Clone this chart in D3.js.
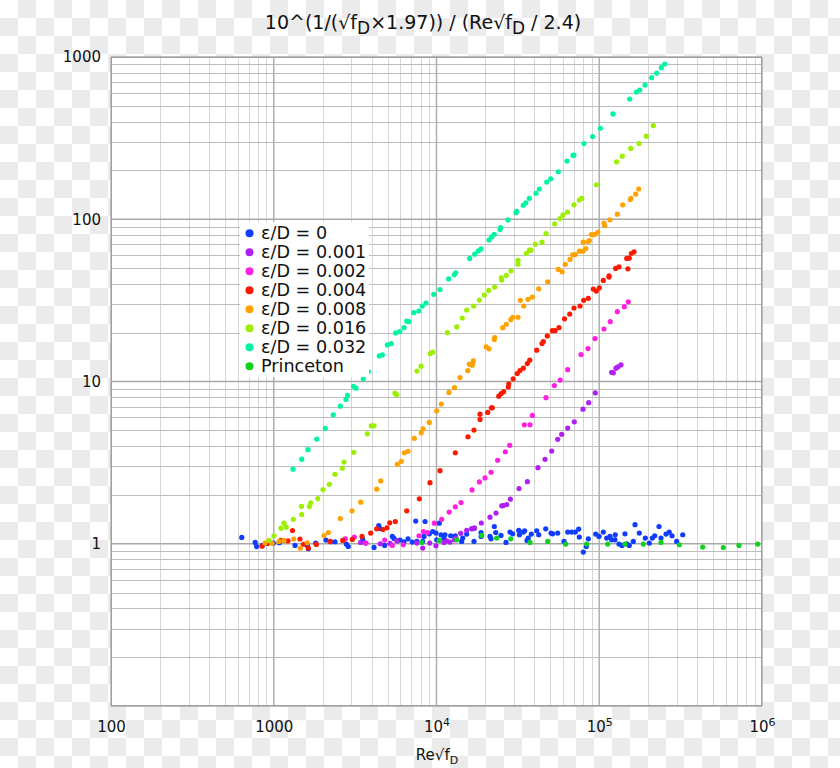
<!DOCTYPE html>
<html><head><meta charset="utf-8">
<script src="https://cdn.jsdelivr.net/npm/d3@7"></script>
<style>body{margin:0;background:#fff}svg{display:block;font-family:"DejaVu Sans",sans-serif}</style>
</head><body><svg id="c" width="840" height="768"></svg>
<script>
// ---------- data (x = Re√fD, y = plotted ratio) ----------
const seriesNames = ["ε/D = 0","ε/D = 0.001","ε/D = 0.002","ε/D = 0.004","ε/D = 0.008","ε/D = 0.016","ε/D = 0.032","Princeton"];
const seriesColors = ["#0f3cff","#b020f5","#ff20e0","#ff1800","#ffa200","#9cef00","#00f5a0","#10d020"];

const eps0 = [[636,1.094],[769,1.019],[784,0.961],[851,0.979],[909,1.004],[994,1.01],[1081,1.014],[1351,0.976],[1612,0.972],[1631,0.932],[1811,1.01],[2094,1.054],[2239,1.029],[2379,1.029],[2792,0.996],[2870,0.962],[3520,1.069],[3673,1.01],[4131,0.949],[4418,1.296],[4497,1.241],[4806,0.976],[5352,1.109],[5482,1.078],[5744,1.043],[5967,1.054],[6315,1.029],[6683,1.073],[7102,1.024],[7452,1.379],[7582,1.033],[8228,1.033],[8380,1.109],[8506,1.371],[9033,1.152],[9479,1.19],[9930,1.163],[10030,1.058],[10400,1.34],[10660,1.136],[11110,1.084],[11280,1.136],[12220,1.12],[13050,1.12],[14280,1.033],[14490,1.084],[15330,1.147],[16460,1.236],[17080,1.248],[17000,1.033],[18780,1.173],[18780,1.109],[21320,1.109],[21630,1.073],[22660,1.277],[23110,1.173],[24910,1.125],[26740,1.019],[28290,1.181],[29390,1.152],[32020,1.208],[32300,1.136],[34160,1.181],[34820,1.203],[35980,1.048],[36650,1.084],[38240,1.147],[41290,1.203],[42470,1.136],[46890,1.236],[50540,1.163],[51770,1.152],[55560,1.163],[60740,1.033],[64010,1.181],[67730,1.181],[71270,1.181],[74770,1.231],[75430,1.1],[79810,0.889],[83280,0.962],[85660,1.073],[95110,1.147],[99650,1.109],[105900,1.181],[111100,1.084],[116400,1.109],[119200,1.058],[125400,1.136],[124900,1.058],[132200,0.996],[138000,0.976],[143900,1.152],[147600,1.0],[152900,0.976],[161900,1.033],[165900,1.31],[176300,1.163],[191900,1.084],[203000,1.01],[211900,1.084],[219200,1.12],[232900,1.277],[239500,1.084],[257200,1.147],[269300,1.181],[279900,1.12],[299100,1.033],[325800,1.136]];

const eps001 = [[3423,1.019],[4516,1.0],[5181,1.004],[5693,1.043],[7582,1.01],[8228,0.941],[9084,1.01],[9930,0.972],[11110,1.019],[11550,1.043],[12100,1.024],[12870,1.058],[13170,1.084],[14080,1.16],[15330,1.21],[16530,1.241],[17080,1.248],[18860,1.342],[21320,1.458],[23200,1.545],[25160,1.713],[25730,1.719],[27010,1.745],[28420,1.883],[32130,2.187],[36140,2.414],[42050,2.944],[46430,3.316],[51040,3.728],[55560,4.399],[58790,4.722],[64010,5.162],[70280,5.644],[79480,6.754],[86140,7.403],[94580,8.505],[119200,11.39],[122000,11.31],[126700,12.08],[130400,12.31],[136000,12.66]];

const eps002 = [[2753,1.073],[3126,1.099],[3688,1.01],[4806,1.054],[5352,0.976],[6253,0.986],[7808,1.12],[8298,1.19],[8781,1.173],[9695,1.34],[10760,1.414],[11970,1.568],[13050,1.688],[14140,1.795],[16530,2.147],[18340,2.404],[19860,2.545],[21630,2.758],[23770,3.27],[26480,3.691],[28180,4.044],[34650,5.41],[37550,5.41],[38790,6.179],[47090,7.948],[52970,9.445],[57570,10.21],[64010,11.83],[77260,14.65],[85300,15.95],[94180,18.38],[106900,21.07],[116800,23.37],[129100,26.93],[142500,28.9],[150800,31.02]];

const eps004 = [[847,0.965],[922,1.01],[1103,1.048],[1223,1.043],[1304,1.207],[1449,1.07],[1524,0.993],[1631,0.941],[1827,0.99],[2217,1.033],[2653,1.048],[3039,1.063],[3486,1.109],[3942,1.163],[4290,1.236],[4692,1.224],[4965,1.254],[5159,1.346],[5584,1.371],[6562,1.595],[7842,1.891],[9123,2.38],[10510,2.821],[13050,3.639],[15620,4.564],[17000,5.019],[18510,5.838],[18510,6.293],[20640,6.446],[21720,6.879],[22030,6.879],[24140,8.118],[24980,8.434],[25880,8.65],[27620,9.245],[27800,9.688],[29600,10.39],[31330,11.2],[32600,11.67],[34160,12.08],[36140,12.9],[37390,13.53],[41290,15.59],[44490,17.13],[45320,17.62],[47960,19.1],[51480,20.58],[53490,20.58],[56590,21.47],[61170,24.34],[65850,26.05],[69970,28.38],[76180,29.19],[80260,31.64],[85660,32.55],[91930,37.12],[95930,36.08],[100100,37.81],[105900,41.99],[114800,44.81],[114800,43.99],[126200,49.76],[132200,50.9],[150000,49.48],[147600,57.32],[152900,57.57],[157400,61.52],[163500,62.93]];

const eps008 = [[884,1.01],[976,1.007],[1077,1.033],[1156,1.048],[1326,1.069],[1455,0.939],[1606,1.014],[2036,1.124],[2164,1.173],[2564,1.43],[3026,1.595],[3423,1.805],[4290,2.169],[4541,2.439],[5744,3.089],[6078,3.222],[6342,3.639],[6683,3.712],[7306,4.462],[8054,4.83],[8263,5.112],[9033,5.596],[10030,6.594],[10700,7.269],[11930,8.566],[12900,9.155],[13940,10.58],[15570,11.68],[15910,12.78],[16600,12.61],[16830,13.4],[20230,16.34],[21020,15.89],[22660,18.13],[22780,18.65],[25520,21.47],[26860,22.53],[28570,24.04],[29390,24.88],[31680,24.88],[32740,31.64],[34350,29.19],[36500,32.09],[38790,33.16],[42470,37.28],[48230,41.17],[56030,49.05],[59210,47.42],[61870,52.72],[66120,56.51],[68700,60.32],[71270,60.65],[75430,63.55],[79480,63.55],[82570,66.03],[79810,72.18],[85660,72.9],[86900,73.93],[89380,80.51],[93270,80.51],[97850,83.15],[108000,91.42],[106900,94.85],[116400,99.2],[129100,107.5],[139500,122.7],[155200,132.3],[156700,134.6],[167500,143.0],[174800,153.6]];

const eps016 = [[935,1.048],[1004,1.12],[1108,1.248],[1156,1.34],[1194,1.266],[1319,1.414],[1480,1.70],[1485,1.514],[1654,1.695],[1687,1.787],[1863,1.899],[2008,2.157],[2195,2.327],[2379,2.681],[2638,2.919],[2702,3.191],[3100,3.66],[3757,4.762],[3970,5.333],[4131,5.333],[5560,8.47],[5693,8.29],[7590,11.59],[8032,12.43],[9161,14.86],[9479,15.16],[11680,20.0],[13310,21.69],[14400,24.63],[15330,27.58],[16930,29.19],[18340,31.77],[19680,34.11],[20930,36.44],[22780,38.19],[25020,43.56],[25160,42.17],[26860,45.06],[28700,48.1],[31680,55.72],[31680,52.82],[35630,61.52],[37180,64.46],[38080,64.46],[40480,70.13],[44490,72.18],[47090,81.64],[53260,93.52],[57400,101.1],[59880,106.3],[63820,110.5],[69970,122.7],[75350,131.4],[78030,134.6],[96200,163.2],[127900,225.9],[138550,244.9],[156100,273.1],[175600,293.1],[194600,325.1],[214900,378.1]];

const eps032 = [[1313,2.88],[1485,3.32],[1624,3.80],[1837,4.42],[2074,5.14],[2322,6.23],[2564,7.05],[2780,7.75],[2840,8.23],[3090,9.35],[3200,9.09],[3550,10.39],[3811,11.52],[4450,14.38],[4650,14.58],[4990,16.81],[5280,17.13],[5615,19.92],[5940,20.29],[6315,21.47],[6560,23.6],[6750,23.37],[7250,26.55],[7780,27.2],[8180,29.19],[8620,30.46],[9620,34.45],[10510,36.86],[11880,42.9],[12870,45.45],[13130,46.76],[16000,57.32],[17180,60.9],[18070,63.82],[18780,65.66],[21020,74.57],[21840,77.81],[22660,80.83],[24560,86.38],[24810,88.87],[27510,99.0],[30800,109.8],[31110,112.0],[34110,122],[35380,126.2],[37180,134.6],[40880,144.4],[42830,153.6],[47550,169.5],[50330,177.7],[56030,196.2],[63380,228.2],[68990,247.4],[69970,248.5],[80600,293.1],[91160,323.7],[101500,363.9],[121400,445.6],[153900,551],[168900,608.2],[177300,625.7],[191100,671.6],[210000,745.7],[225400,795.9],[240600,859.1],[252500,903.9]];

const princeton = [[8116,1.019],[10400,1.048],[13310,1.058],[18960,1.125],[23430,1.084],[28570,1.073],[37550,1.019],[48230,1.033],[62220,0.996],[83640,0.996],[112700,0.996],[143900,0.996],[186600,0.996],[239500,1.019],[310400,0.986],[432200,0.954],[578500,0.948],[722300,0.976],[941700,0.996]];

const xTickValues = [100,1000,1e4,1e5,1e6];
const xTickLabels = ["100","1000","10|4","10|5","10|6"];
const yTickValues = [1,10,100,1000];
const yTickLabels = ["1","10","100","1000"];

const allSeries = [eps0,eps001,eps002,eps004,eps008,eps016,eps032,princeton];

// ---------- drawing ----------
const svg = d3.select("#c");
const W = 840, H = 768;
const x = d3.scaleLog().domain([100,1e6]).range([111,762]);
const y = d3.scaleLog().domain([0.1,1000]).range([706,57]);

// checkerboard background
const defs = svg.append("defs");
const pat = defs.append("pattern").attr("id","chk").attr("width",36).attr("height",36).attr("patternUnits","userSpaceOnUse");
pat.append("rect").attr("width",36).attr("height",36).attr("fill","#ffffff");
pat.append("rect").attr("x",18).attr("y",0).attr("width",18).attr("height",18).attr("fill","#ebebeb");
pat.append("rect").attr("x",0).attr("y",18).attr("width",18).attr("height",18).attr("fill","#ebebeb");
svg.append("rect").attr("width",W).attr("height",H).attr("fill","url(#chk)");

// plot area
svg.append("rect").attr("x",111).attr("y",57).attr("width",651).attr("height",649).attr("fill","#fff");

const isMajor = v => Math.abs(Math.log10(v) - Math.round(Math.log10(v))) < 1e-9;
const xt = x.ticks(), yt = y.ticks();
const g = svg.append("g");
g.selectAll(".vx").data(xt.filter(v=>!isMajor(v))).enter().append("line")
  .attr("x1",d=>Math.round(x(d))+0.5).attr("x2",d=>Math.round(x(d))+0.5).attr("y1",57).attr("y2",706)
  .attr("stroke","#d6d6d6").attr("stroke-width",1);
g.selectAll(".hy").data(yt.filter(v=>!isMajor(v))).enter().append("line")
  .attr("y1",d=>Math.round(y(d))+0.5).attr("y2",d=>Math.round(y(d))+0.5).attr("x1",111).attr("x2",762)
  .attr("stroke","#bdbdbd").attr("stroke-width",1);
g.selectAll(".mx").data(xt.filter(isMajor)).enter().append("line")
  .attr("x1",d=>x(d)).attr("x2",d=>x(d)).attr("y1",57).attr("y2",706)
  .attr("stroke","#b0b0b0").attr("stroke-width",1.5);
g.selectAll(".my").data(yt.filter(isMajor)).enter().append("line")
  .attr("y1",d=>y(d)).attr("y2",d=>y(d)).attr("x1",111).attr("x2",762)
  .attr("stroke","#a8a8a8").attr("stroke-width",1.5);
svg.append("rect").attr("x",111.5).attr("y",57.5).attr("width",650).attr("height",648)
  .attr("fill","none").attr("stroke","#a0a0a0").attr("stroke-width",1);

// points
allSeries.forEach((s,i)=>{
  svg.append("g").selectAll("circle").data(s).enter().append("circle")
    .attr("cx",d=>x(d[0])).attr("cy",d=>y(d[1])).attr("r",2.6)
    .attr("fill",seriesColors[i]);
});

// axes
const ax = svg.append("g").attr("transform","translate(0,706)")
  .call(d3.axisBottom(x).tickValues(xTickValues).tickFormat((d,i)=>xTickLabels[i]).tickSize(0).tickPadding(15));
ax.select(".domain").remove();
ax.selectAll("text").attr("font-family","DejaVu Sans").attr("font-size",15).attr("fill","#111")
  .each(function(d,i){
    const lab = xTickLabels[i];
    if (lab.indexOf("|") >= 0) {
      const [b,e] = lab.split("|");
      const t = d3.select(this); t.text(null);
      t.append("tspan").text(b);
      t.append("tspan").attr("font-size",11).attr("dy","-0.5em").text(e);
    }
  });
const ay = svg.append("g").attr("transform","translate(111,0)")
  .call(d3.axisLeft(y).tickValues(yTickValues).tickFormat((d,i)=>yTickLabels[i]).tickSize(0).tickPadding(10));
ay.select(".domain").remove();
ay.selectAll("text").attr("font-family","DejaVu Sans").attr("font-size",15).attr("fill","#111");

// title
const title = svg.append("text").attr("x",423).attr("y",29).attr("text-anchor","middle")
  .attr("font-size",19).attr("fill","#111");
title.append("tspan").text("10^(1/(√f");
title.append("tspan").attr("dy",5).attr("font-size",17).text("D");
title.append("tspan").attr("dy",-5).text("×1.97)) / (Re√f");
title.append("tspan").attr("dy",5).attr("font-size",17).text("D");
title.append("tspan").attr("dy",-5).text(" / 2.4)");

// x-axis title
const xl = svg.append("text").attr("x",437).attr("y",760).attr("text-anchor","middle")
  .attr("font-size",15).attr("fill","#111");
xl.append("tspan").text("Re√f");
xl.append("tspan").attr("dy",4).attr("font-size",11).text("D");

// legend
const lg = svg.append("g");
lg.append("rect").attr("x",240).attr("y",222).attr("width",129).attr("height",155).attr("fill","#fff");
seriesNames.forEach((n,i)=>{
  const cy = 233.3 + i*19;
  lg.append("circle").attr("cx",249.5).attr("cy",cy).attr("r",4).attr("fill",seriesColors[i]);
  lg.append("text").attr("x",261).attr("y",cy+6).attr("font-size",17.6).attr("fill","#111").text(n);
});
</script></body></html>
